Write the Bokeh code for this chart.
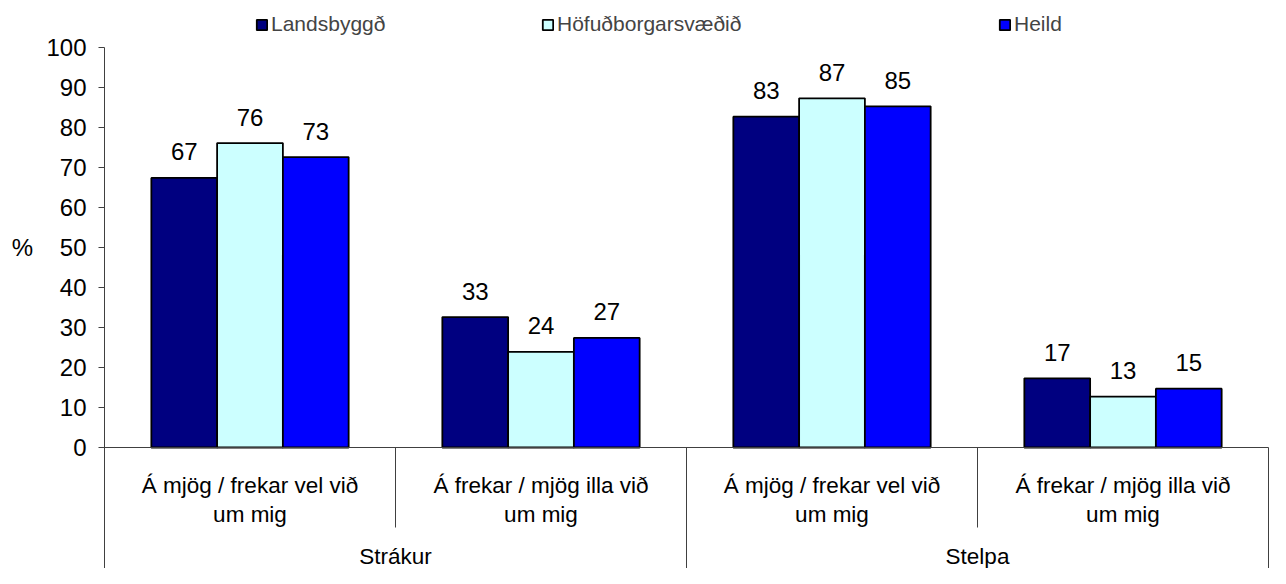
import numpy as np
from bokeh.plotting import figure
from bokeh.layouts import row
from bokeh.models import Range1d, FixedTicker, Legend, LegendItem, ColumnDataSource
from bokeh.core.properties import value
from bokeh.embed import file_html
from bokeh.resources import INLINE

# ---- data ----
cat_line1 = ["Á mjög / frekar vel við", "Á frekar / mjög illa við",
             "Á mjög / frekar vel við", "Á frekar / mjög illa við"]
cat_line2 = ["um mig", "um mig", "um mig", "um mig"]
groups = ["Strákur", "Stelpa"]
series = ["Landsbyggð", "Höfuðborgarsvæðið", "Heild"]
landsbyggd = [67.4, 32.6, 82.7, 17.3]
hofudborgarsvaedid = [76.1, 23.9, 87.3, 12.7]
heild = [72.6, 27.4, 85.3, 14.7]
y_ticks = [0, 10, 20, 30, 40, 50, 60, 70, 80, 90, 100]
y_title = "%"
colors = ["#000080", "#CCFFFF", "#0000FF"]

FONT = "Liberation Sans"
FS_NUM = "24px"
FS_CAT = "22.5px"
FS_LEG = "21px"
LINE = "#404040"

H = 568
W_LEFT = 40
W_MAIN = 1230
LEFT = 64          # axis panel of the main figure; axis sits at 40 + 64 = 104
PX_X = 291.0
PX_Y = 4.0
ZERO_Y = 447
y_bottom = -(H - ZERO_Y) / PX_Y
y_top = ZERO_Y / PX_Y
yr = Range1d(y_bottom, y_top)

# narrow strip holding the y-axis title
t = figure(width=W_LEFT, height=H, output_backend="svg", toolbar_location=None,
           x_range=Range1d(0, W_LEFT), y_range=yr, x_axis_location=None,
           y_axis_location=None, min_border=0)
t.outline_line_color = None
t.xgrid.visible = False
t.ygrid.visible = False
t.text(x=[22], y=[50], text=[y_title], text_font=value(FONT), text_font_size=FS_NUM,
       text_align="center", text_baseline="middle", text_color="black")

p = figure(width=W_MAIN, height=H, output_backend="svg", toolbar_location=None,
           x_range=Range1d(0, (W_MAIN - LEFT) / PX_X), y_range=yr,
           x_axis_location=None, min_border_left=LEFT, min_border_right=0,
           min_border_top=0, min_border_bottom=0)
p.outline_line_color = None
p.xgrid.visible = False
p.ygrid.visible = False
p.background_fill_color = "white"
p.border_fill_color = "white"

ax = p.yaxis[0]
ax.ticker = FixedTicker(ticks=y_ticks)
ax.bounds = (y_bottom, 100)
ax.axis_line_color = LINE
ax.major_tick_line_color = LINE
ax.major_tick_out = 6
ax.major_tick_in = 0
ax.minor_tick_line_color = None
ax.major_label_text_font = FONT
ax.major_label_text_font_size = FS_NUM
ax.major_label_text_color = "black"
ax.major_label_standoff = 12

n = len(cat_line1)
centers = np.arange(n) + 0.5
bw = 0.226
offsets = [-bw, 0.0, bw]
vals = [landsbyggd, hofudborgarsvaedid, heild]

renderers = []
for s, v, c, off in zip(series, vals, colors, offsets):
    src = ColumnDataSource(dict(x=centers + off, top=v,
                                lab=[str(int(round(tv))) for tv in v]))
    r = p.vbar(x="x", top="top", bottom=0, width=bw, source=src,
               fill_color=c, line_color="black", line_width=1.8)
    renderers.append(r)
    p.text(x="x", y="top", text="lab", source=src, text_font=value(FONT),
           text_font_size=FS_NUM, text_align="center", text_baseline="middle",
           y_offset=-26, text_color="black")

# base line and category separators
p.segment(x0=[0], y0=[0], x1=[n], y1=[0], line_color=LINE, line_width=1)
p.segment(x0=[1, 3], y0=[0, 0], x1=[1, 3], y1=[-20.0, -20.0], line_color=LINE, line_width=1)
p.segment(x0=[2, n], y0=[0, 0], x1=[2, n], y1=[y_bottom, y_bottom], line_color=LINE, line_width=1)

# category labels
p.text(x=centers, y=[-9.6] * n, text=cat_line1, text_font=value(FONT), text_font_size=FS_CAT,
       text_align="center", text_baseline="middle", text_color="black")
p.text(x=centers, y=[-16.8] * n, text=cat_line2, text_font=value(FONT), text_font_size=FS_CAT,
       text_align="center", text_baseline="middle", text_color="black")
p.text(x=[1.0, 3.0], y=[-27.3, -27.3], text=groups, text_font=value(FONT), text_font_size=FS_CAT,
       text_align="center", text_baseline="middle", text_color="black")

leg_x = [151, 437, 894]
for s, r, lx in zip(series, renderers, leg_x):
    lg = Legend(items=[LegendItem(label=s, renderers=[r])], location=(lx, 532),
                orientation="horizontal", margin=0, padding=0, border_line_color=None,
                background_fill_alpha=0, glyph_width=13, glyph_height=13, label_standoff=3,
                label_text_font=FONT, label_text_font_size=FS_LEG, spacing=0)
    p.add_layout(lg)

layout = row(t, p, spacing=0)
open("out.html", "w").write(file_html(layout, INLINE))
